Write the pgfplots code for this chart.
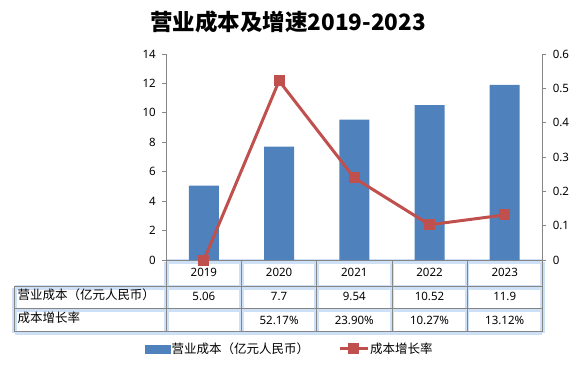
\documentclass[border=0pt]{standalone}
\usepackage{pgfplots}
\pgfplotsset{compat=1.18}
\usepackage{fontspec}
\setmainfont{Noto Sans}
\newfontfamily\cjk{Noto Sans CJK SC}
\definecolor{barblue}{RGB}{79,129,189}
\definecolor{linered}{RGB}{192,80,77}
\definecolor{axgray}{RGB}{134,134,134}
\definecolor{glowc}{RGB}{205,224,245}
\newcommand{\numfont}{\fontsize{11.5}{13}\selectfont}
\newcommand{\cjkfont}{\cjk\fontsize{12.5}{14}\selectfont}
\begin{document}
\begin{tikzpicture}[x=1pt,y=1pt]
\path[use as bounding box] (0,0) rectangle (584,365);
\node[font=\cjk\bfseries\fontsize{22.5}{24}\selectfont] at (288,343) {营业成本及增速2019-2023};
% glow of the table
\begin{scope}[glowc, line width=4.5pt, yshift=-1.5pt]
\draw (166.3,105) -- (542.3,105);
\foreach \y in {79,56.7,33.3} \draw (14.7,\y) -- (542.3,\y);
\draw (14.7,79) -- (14.7,33.3);
\foreach \k in {0,...,5} \draw ({166.3+75.2*\k},105) -- ({166.3+75.2*\k},33.3);
\end{scope}
\begin{axis}[at={(166.3pt,105pt)}, anchor=south west, scale only axis,
  width=376pt, height=206pt, xmin=-0.5, xmax=4.5, ymin=0, ymax=14,
  ytick={0,2,...,14}, xtick=\empty,
  axis x line*=bottom, axis y line*=left,
  axis line style={axgray, line width=0.8pt},
  tick style={axgray, line width=0.8pt}, tick align=outside, major tick length=4pt,
  /pgf/number format/assume math mode=true,
  yticklabel style={font=\numfont, text=black, xshift=-3pt},
  clip=false]
\addplot[ybar, bar width=30pt, fill=barblue, draw=none] coordinates {(0,5.06) (1,7.7) (2,9.54) (3,10.52) (4,11.9)};
\end{axis}
\begin{axis}[at={(166.3pt,105pt)}, anchor=south west, scale only axis,
  width=376pt, height=206pt, xmin=-0.5, xmax=4.5, ymin=0, ymax=0.6,
  ytick={0,0.1,0.2,0.3,0.4,0.5,0.6}, xtick=\empty,
  axis x line=none, axis y line*=right,
  axis line style={axgray, line width=0.8pt},
  tick style={axgray, line width=0.8pt}, tick align=outside, major tick length=4pt,
  /pgf/number format/assume math mode=true,
  yticklabel style={font=\numfont, text=black, xshift=3pt},
  clip=false,
  legend columns=2,
  legend style={at={(0.3277,-0.432)}, anchor=center, draw=none, fill=none,
    font=\cjkfont, nodes={inner sep=1pt},
    /tikz/every even column/.append style={column sep=28pt}}]
\addlegendimage{legend image code/.code={\fill[barblue] (0pt,-4.2pt) rectangle (25pt,4.2pt);}}
\addlegendentry{营业成本（亿元人民币）}
\addplot[linered, line width=3pt, mark=square*, mark size=5pt,
  mark options={fill=linered, draw=linered, line width=0pt},
  legend image code/.code={\draw[mark repeat=2,mark phase=2] plot coordinates {(0pt,0pt) (14pt,0pt) (28pt,0pt)};}]
  coordinates {(0,0) (1,0.5217) (2,0.2390) (3,0.1027) (4,0.1312)};
\addlegendentry{成本增长率}
\end{axis}
% table grid
\begin{scope}[axgray, line width=0.8pt]
\foreach \y in {79,56.7,33.3} \draw (14.7,\y) -- (542.3,\y);
\draw (14.7,79) -- (14.7,33.3);
\foreach \k in {0,...,5} \draw ({166.3+75.2*\k},105) -- ({166.3+75.2*\k},33.3);
\end{scope}
% table text
\foreach \t [count=\i from 0] in {2019,2020,2021,2022,2023}
  \node[font=\numfont] at ({203.9+75.2*\i},92.3) {\t};
\foreach \t [count=\i from 0] in {5.06,7.7,9.54,10.52,11.9}
  \node[font=\numfont] at ({203.9+75.2*\i},69) {\t};
\foreach \t [count=\i from 1] in {52.17\%,23.90\%,10.27\%,13.12\%}
  \node[font=\numfont] at ({203.9+75.2*\i},45) {\t};
\node[font=\cjkfont, anchor=west, inner sep=0pt] at (17.3,70) {营业成本（亿元人民币）};
\node[font=\cjkfont, anchor=west, inner sep=0pt] at (17.3,47.7) {成本增长率};
\end{tikzpicture}
\end{document}
